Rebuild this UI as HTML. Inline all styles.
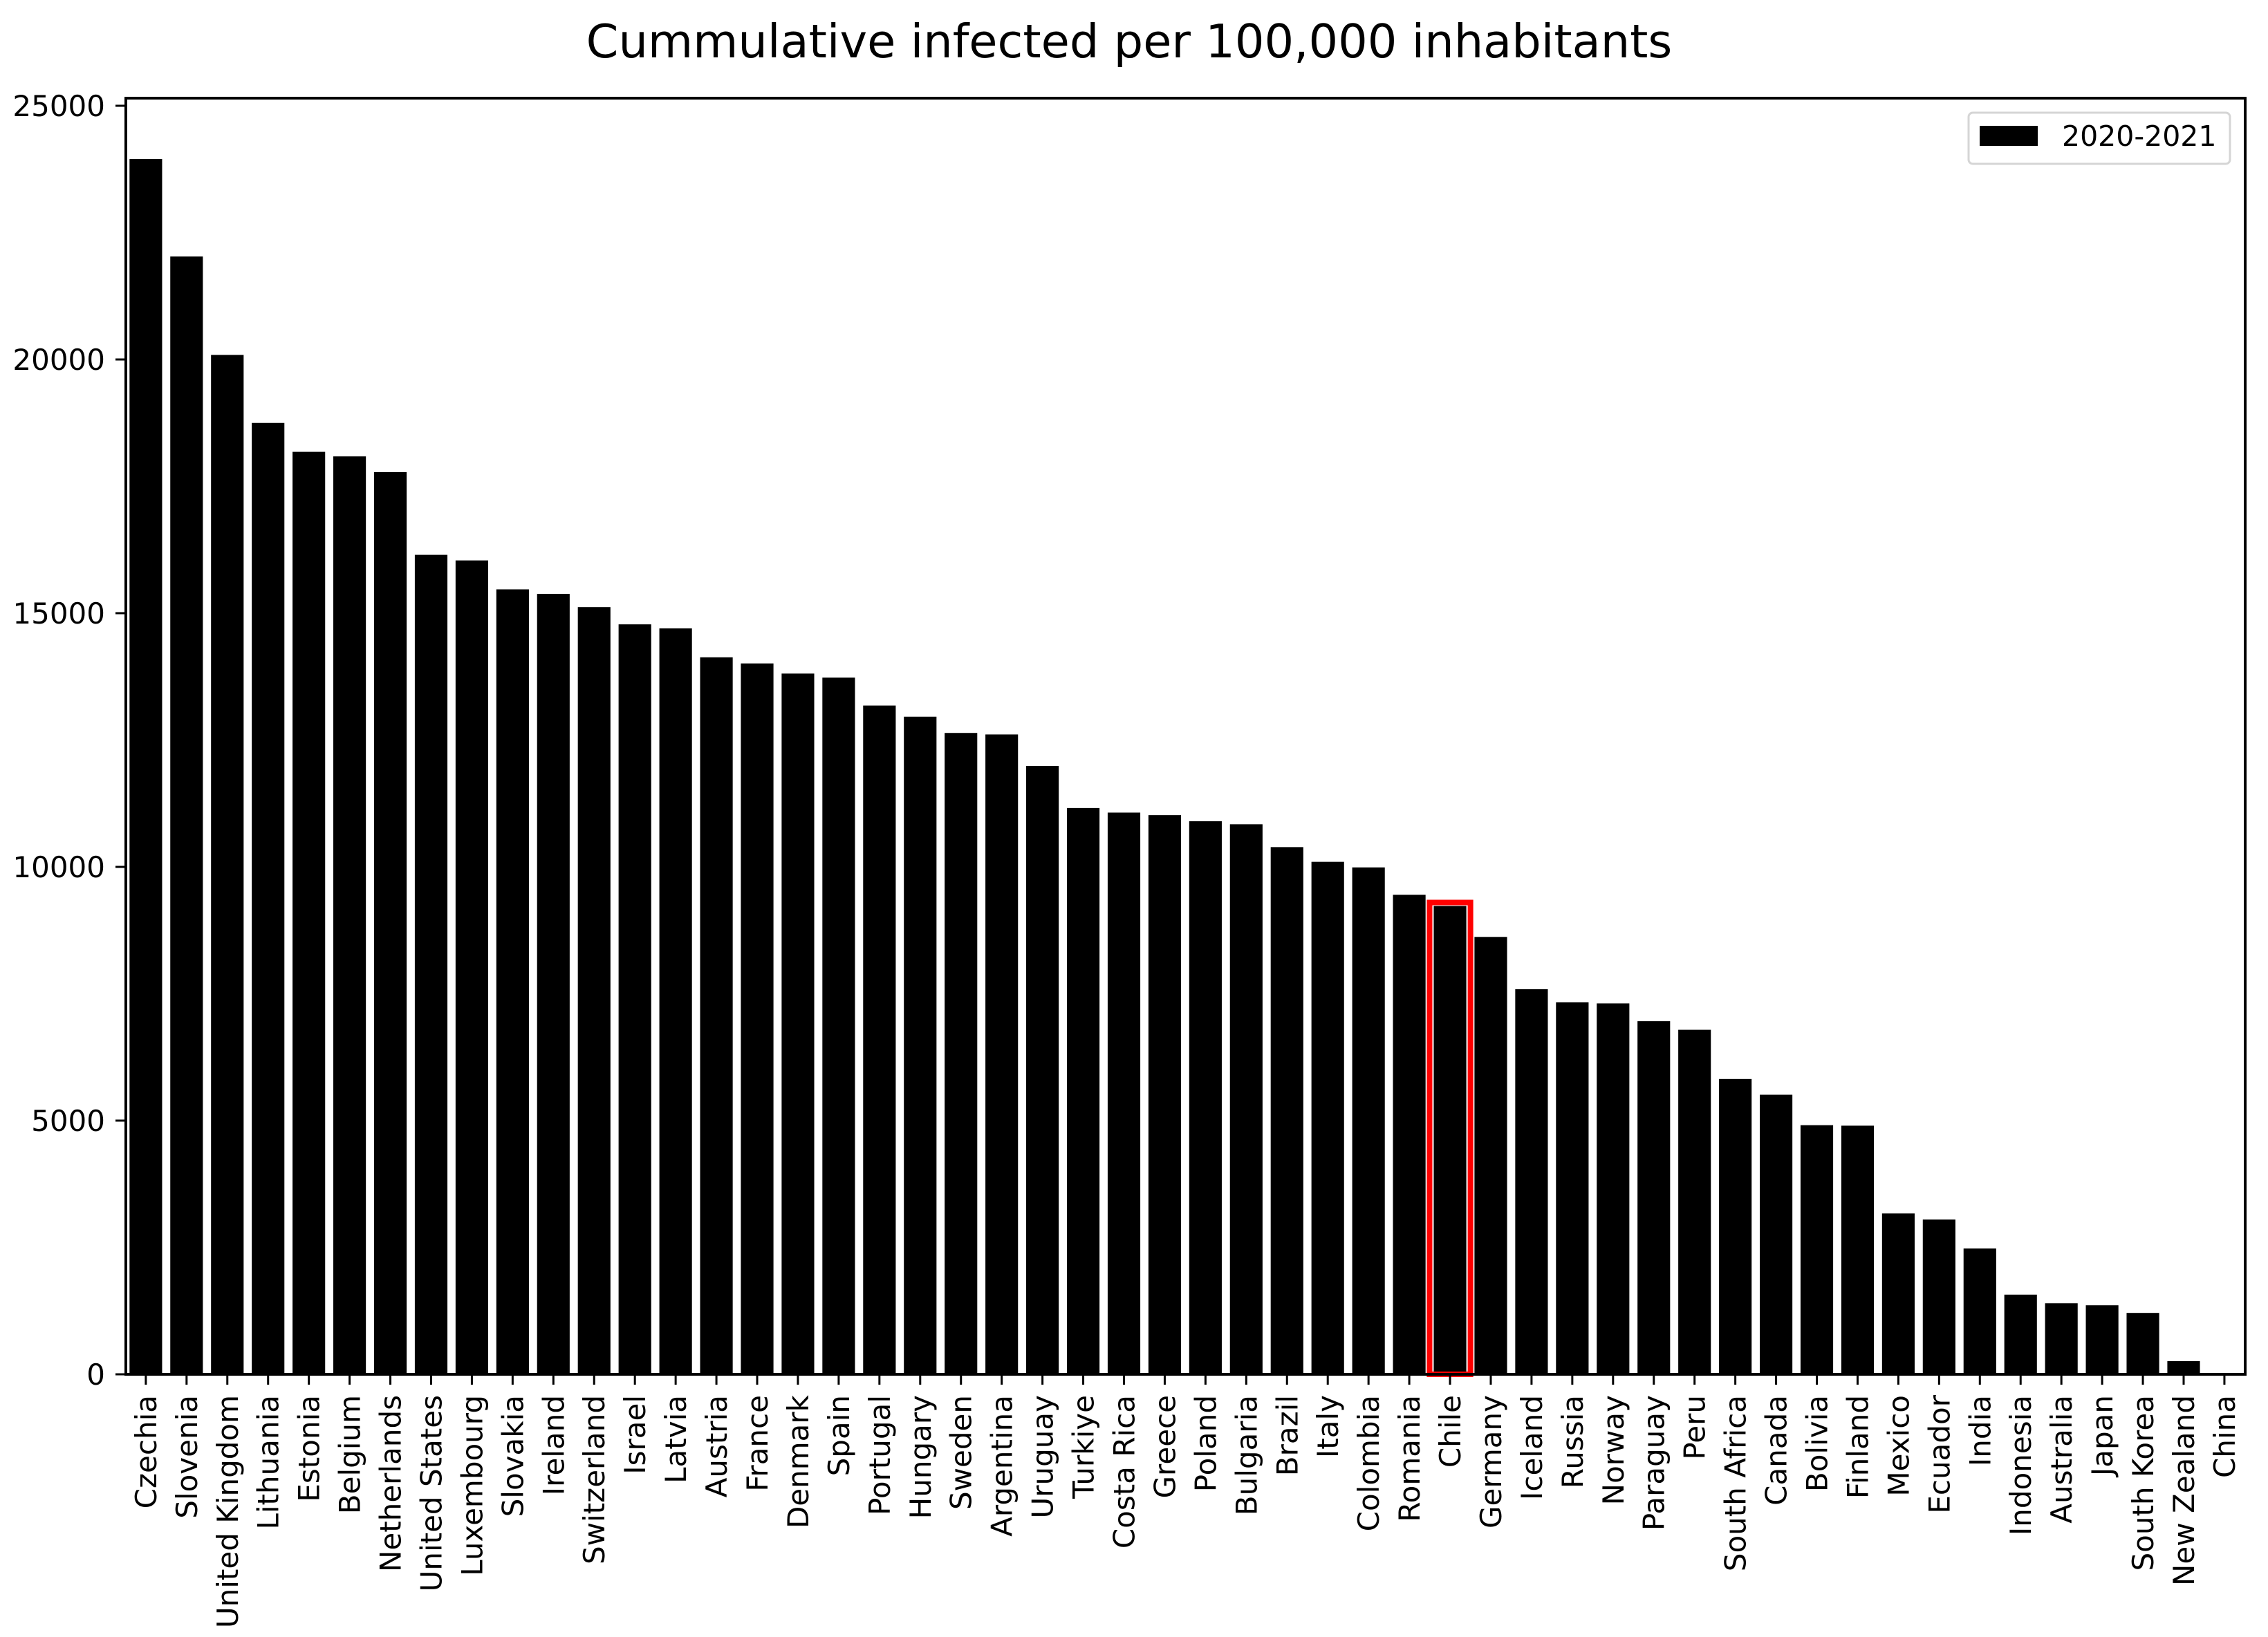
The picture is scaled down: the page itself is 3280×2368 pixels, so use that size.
<!DOCTYPE html>
<html><head><meta charset="utf-8"><style>
html,body{margin:0;padding:0;background:#fff;}
svg{display:block;font-family:"DejaVu Sans","Liberation Sans",sans-serif;}
</style></head><body>
<svg id="chart" width="3280" height="2368" viewBox="0 0 3280 2368" xmlns="http://www.w3.org/2000/svg">
<rect width="3280" height="2368" fill="#fff"/>
<text x="1633" y="83" font-size="67" text-anchor="middle">Cummulative infected per 100,000 inhabitants</text>
<g id="bars"></g>
<g id="yaxis"></g>
<g id="xaxis"></g>
<rect x="182" y="142" width="3065" height="1846" fill="none" stroke="#000" stroke-width="4"/>
<g>
<rect x="2847" y="163" width="378" height="74" rx="6" fill="#fff" stroke="#d5d5d5" stroke-width="3"/>
<rect x="2863" y="182" width="84" height="29" fill="#000"/>
<text x="2982" y="211" font-size="41">2020-2021</text>
</g>
</svg>
<script>
const categories = ["Czechia","Slovenia","United Kingdom","Lithuania","Estonia","Belgium","Netherlands","United States","Luxembourg","Slovakia","Ireland","Switzerland","Israel","Latvia","Austria","France","Denmark","Spain","Portugal","Hungary","Sweden","Argentina","Uruguay","Turkiye","Costa Rica","Greece","Poland","Bulgaria","Brazil","Italy","Colombia","Romania","Chile","Germany","Iceland","Russia","Norway","Paraguay","Peru","South Africa","Canada","Bolivia","Finland","Mexico","Ecuador","India","Indonesia","Australia","Japan","South Korea","New Zealand","China"];
const values = [23950,22030,20090,18750,18180,18090,17780,16150,16040,15470,15380,15120,14780,14700,14130,14010,13810,13730,13180,12960,12640,12610,11990,11160,11070,11020,10900,10840,10390,10100,9990,9450,9230,8620,7590,7330,7310,6960,6790,5820,5510,4910,4900,3170,3050,2480,1570,1400,1360,1210,260,0];
const yTicks = [0,5000,10000,15000,20000,25000];
const highlighted = ["Chile"];

const NS = "http://www.w3.org/2000/svg";
const plotL = 182, plotR = 3247, plotT = 142, plotB = 1988;
const xMin = -0.49, xMax = categories.length - 0.49;
const yMin = 0, yMax = 25150;
function xs(i){ return plotL + (i - xMin) / (xMax - xMin) * (plotR - plotL); }
function ys(v){ return plotB - (v - yMin) / (yMax - yMin) * (plotB - plotT); }
function mk(tag, attrs){ const e = document.createElementNS(NS, tag); for (const k in attrs) e.setAttribute(k, attrs[k]); return e; }

const bars = document.getElementById('bars');
const step = xs(1) - xs(0);
const bw = step * 0.8;
categories.forEach((c, i) => {
  const v = values[i];
  const r = mk('rect', {x: xs(i) - bw/2, y: ys(v), width: bw, height: ys(0) - ys(v), fill: '#000'});
  
  
  bars.appendChild(r);
  if (highlighted.includes(c)) {
    const h = mk('rect', {x: xs(i) - bw/2 - 6, y: ys(v) - 5, width: bw + 12, height: ys(0) - ys(v) + 5, fill: 'none', stroke: '#ff0000', 'stroke-width': 8});
    
    
    bars.appendChild(h);
  }
});

const ya = document.getElementById('yaxis');
yTicks.forEach(t => {
  const y = ys(t);
  const l = mk('line', {x1: plotL - 15, x2: plotL, y1: y, y2: y, stroke: '#000', 'stroke-width': 3});
  
  
  ya.appendChild(l);
  const tx = mk('text', {x: plotL - 30, y: y + 15, 'font-size': 42, 'text-anchor': 'end'});
  tx.textContent = String(t);
  
  
  ya.appendChild(tx);
});

const xa = document.getElementById('xaxis');
categories.forEach((c, i) => {
  const x = xs(i);
  const l = mk('line', {x1: x, x2: x, y1: plotB, y2: plotB + 15, stroke: '#000', 'stroke-width': 3});
  
  
  xa.appendChild(l);
  const tx = mk('text', {x: 0, y: 0, 'font-size': 42, 'text-anchor': 'end', transform: 'translate(' + (x + 15) + ',' + (plotB + 30) + ') rotate(-90)'});
  tx.textContent = c;
  
  
  xa.appendChild(tx);
});
</script>
</body></html>
